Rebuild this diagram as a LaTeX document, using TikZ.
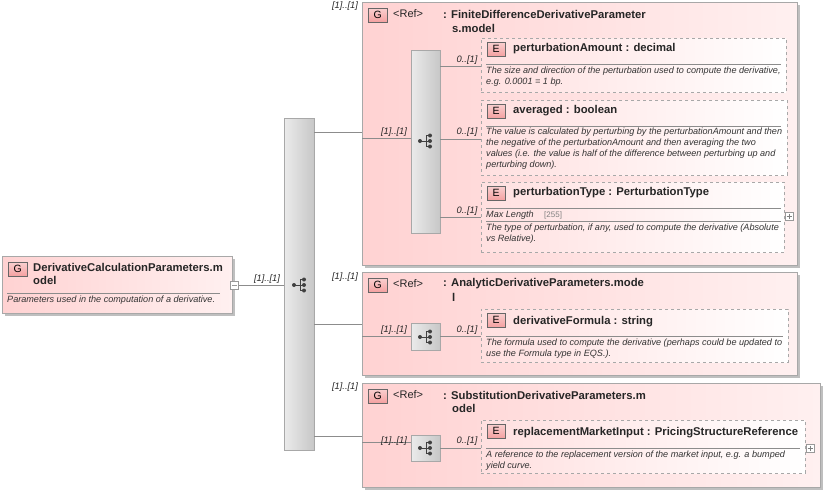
\documentclass[tikz,border=0pt]{standalone}
\usepackage{fontspec}
\setmainfont{Liberation Sans}
\usetikzlibrary{positioning}
\definecolor{pinkA}{HTML}{FFD2D2}
\definecolor{pinkB}{HTML}{FFF0F0}
\definecolor{badge}{HTML}{F4A0A0}
\definecolor{edge}{HTML}{A8A8A8}
\tikzset{
  grp/.style={draw=edge, left color=pinkA, right color=pinkB, inner sep=0pt, anchor=north west},
  shad/.style={fill=black!25, draw=none},
  elem/.style={draw=edge, dashed, left color=pinkA!70, right color=white, inner sep=0pt, anchor=north west},
  bar/.style={draw=edge, left color=black!8, right color=black!22, inner sep=0pt, anchor=north west},
  badgeS/.style={draw=black!60, top color=badge!50, bottom color=badge, minimum width=19pt, minimum height=14pt, inner sep=0pt, font=\fontsize{10.5}{10.5}\selectfont, anchor=north west},
  ttl/.style={font=\fontsize{11.3}{13}\bfseries\selectfont, text=black!85, anchor=west, inner sep=0pt},
  desc/.style={font=\fontsize{9.1}{10.9}\itshape\selectfont, text=black!80, anchor=north west, inner sep=0pt, align=left},
  card/.style={font=\fontsize{9.3}{10}\itshape\selectfont, text=black!85, inner sep=0pt},
  conn/.style={draw=black!45, line width=0.8pt},
  sep/.style={draw=black!45, line width=0.7pt},
  pm/.style={draw=black!40, fill=white, minimum size=8pt, inner sep=0pt}
}
\newcommand{\seqicon}[1]{%
  \begin{scope}[shift={(#1)}]
    \draw[black!75, line width=1pt] (-6,0) -- (0,0) (0,-5.5) -- (0,5.5) (0,-5.5) -- (4,-5.5) (0,0) -- (4,0) (0,5.5) -- (4,5.5);
    \fill[black!75] (-6,0) circle (2) (4,-5.5) circle (2) (4,0) circle (2) (4,5.5) circle (2);
  \end{scope}}
\begin{document}
\begin{tikzpicture}[x=1pt,y=-1pt]
\useasboundingbox (0,0) rectangle (826,493);
% main box
\fill[shad] (5,259) rectangle (235,316);
\node[grp, minimum width=230pt, minimum height=57pt] (main) at (2,256) {};
\node[badgeS] (gm) at (8,262) {G};
\node[ttl] at (33,267) {DerivativeCalculationParameters.m};
\node[ttl] at (33,280) {odel};
\draw[sep] (7,293) -- (220,293);
\node[desc] at (7,296) {Parameters used in the computation of a derivative.};
\node[pm] (mm) at (234.5,285) {};
\draw[black!40] (232,285) -- (237,285);
% main sequence bar
\node[bar, minimum width=30pt, minimum height=332pt] (seq) at (284,118) {};
\seqicon{300,285}
\draw[conn] (mm.east) -- (seq.west |- mm.east);
\node[card] at (267,279) {[1]..[1]};
% group 1
\fill[shad] (365,5) rectangle (800,268);
\node[grp, minimum width=435pt, minimum height=263pt] (g1) at (362,2) {};
\node[card] at (345,6) {[1]..[1]};
\node[badgeS] at (368,8) {G};
\node[ttl, font=\fontsize{11}{12}\selectfont] at (393,14) {<Ref>};
\node[ttl] at (443,14) {: FiniteDifferenceDerivativeParameter};
\node[ttl] at (452,28) {s.model};
\coordinate (g1in) at (362,132);
\draw[conn] (seq.east |- g1in) -- (g1in);
\node[bar, minimum width=29pt, minimum height=183pt] (seq1) at (411,50) {};
\seqicon{426,141}
\coordinate (g1l) at (362,138);
\draw[conn] (g1l) -- (seq1.west |- g1l);
\node[card] at (394,132) {[1]..[1]};
% E1
\node[elem, minimum width=305pt, minimum height=54pt] (e1) at (481,38) {};
\node[badgeS, minimum width=18pt] at (487,42) {E};
\node[ttl] at (513,49) {perturbationAmount : decimal};
\draw[sep] (486,64) -- (781,64);
\node[desc] at (486,67) {The size and direction of the perturbation used to compute the derivative,\\e.g. 0.0001 = 1 bp.};
\draw[conn] (seq1.east |- 0,66) -- (e1.west |- 0,66);
\node[card] at (467,60) {0..[1]};
% E2
\node[elem, minimum width=306pt, minimum height=75pt] (e2) at (481,100) {};
\node[badgeS, minimum width=18pt] at (487,104) {E};
\node[ttl] at (513,111) {averaged : boolean};
\draw[sep] (486,126) -- (781,126);
\node[desc] at (486,128) {The value is calculated by perturbing by the perturbationAmount and then\\the negative of the perturbationAmount and then averaging the two\\values (i.e. the value is half of the difference between perturbing up and\\perturbing down).};
\draw[conn] (seq1.east |- 0,139) -- (e2.west |- 0,139);
\node[card] at (467,132) {0..[1]};
% E3
\node[elem, minimum width=303pt, minimum height=70pt] (e3) at (481,182) {};
\node[badgeS, minimum width=18pt] at (487,186) {E};
\node[ttl] at (513,193) {perturbationType : PerturbationType};
\draw[sep] (486,208) -- (781,208);
\node[desc, font=\fontsize{9.1}{10}\itshape\selectfont] at (486,211) {Max Length};
\node[desc, font=\fontsize{8}{10}\selectfont, text=black!50] at (544,211) {[255]};
\draw[sep] (486,221) -- (781,221);
\node[desc] at (486,224) {The type of perturbation, if any, used to compute the derivative (Absolute\\vs Relative).};
\draw[conn] (seq1.east |- 0,217) -- (e3.west |- 0,217);
\node[card] at (467,211) {0..[1]};
\node[pm] (p3) at (789,216) {};
\draw[black!50] (786.5,216) -- (791.5,216) (789,213.5) -- (789,218.5);
% group 2
\fill[shad] (365,275) rectangle (800,378);
\node[grp, minimum width=435pt, minimum height=103pt] (g2) at (362,272) {};
\node[card] at (345,277) {[1]..[1]};
\node[badgeS] at (368,278) {G};
\node[ttl, font=\fontsize{11}{12}\selectfont] at (393,284) {<Ref>};
\node[ttl] at (443,284) {: AnalyticDerivativeParameters.mode};
\node[ttl] at (452,297) {l};
\draw[conn] (seq.east |- 0,324) -- (g2.west |- 0,324);
\node[bar, minimum width=29pt, minimum height=27pt] (seq2) at (411,323) {};
\seqicon{426,337}
\draw[conn] (g2.west |- 0,336) -- (seq2.west |- 0,336);
\node[card] at (394,330) {[1]..[1]};
\node[elem, minimum width=307pt, minimum height=53pt] (e4) at (481,309) {};
\node[badgeS, minimum width=18pt] at (487,313) {E};
\node[ttl] at (513,322) {derivativeFormula : string};
\draw[sep] (486,336) -- (783,336);
\node[desc] at (486,339) {The formula used to compute the derivative (perhaps could be updated to\\use the Formula type in EQS.).};
\draw[conn] (seq2.east |- 0,336) -- (e4.west |- 0,336);
\node[card] at (467,330) {0..[1]};
% group 3
\fill[shad] (365,386) rectangle (823,490);
\node[grp, minimum width=458pt, minimum height=104pt] (g3) at (362,383) {};
\node[card] at (345,387) {[1]..[1]};
\node[badgeS] at (368,389) {G};
\node[ttl, font=\fontsize{11}{12}\selectfont] at (393,395) {<Ref>};
\node[ttl] at (443,395) {: SubstitutionDerivativeParameters.m};
\node[ttl] at (452,408) {odel};
\draw[conn] (seq.east |- 0,436) -- (g3.west |- 0,436);
\node[bar, minimum width=29pt, minimum height=26pt] (seq3) at (411,435) {};
\seqicon{426,448}
\draw[conn] (g3.west |- 0,442) -- (seq3.west |- 0,442);
\node[card] at (394,441) {[1]..[1]};
\node[elem, minimum width=324pt, minimum height=53pt] (e5) at (481,420) {};
\node[badgeS, minimum width=18pt] at (487,424) {E};
\node[ttl] at (513,433) {replacementMarketInput : PricingStructureReference};
\draw[sep] (486,448) -- (800,448);
\node[desc] at (486,451) {A reference to the replacement version of the market input, e.g. a bumped\\yield curve.};
\draw[conn] (seq3.east |- 0,448) -- (e5.west |- 0,448);
\node[card] at (467,441) {0..[1]};
\node[pm] (p5) at (810,448) {};
\draw[black!50] (807.5,448) -- (812.5,448) (810,445.5) -- (810,450.5);
\end{tikzpicture}
\end{document}
